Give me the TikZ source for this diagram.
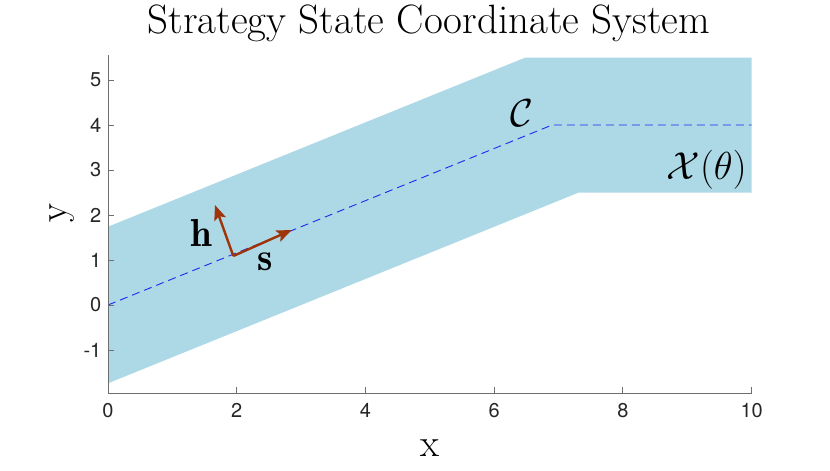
\RequirePackage{fix-cm}
\documentclass[tikz,border=0pt]{standalone}
\usepackage{fontspec}
\newfontfamily\tickfont{TeX Gyre Heros}
\usetikzlibrary{arrows.meta}
\definecolor{bandblue}{RGB}{173,216,230}
\definecolor{axisgray}{RGB}{110,110,110}
\definecolor{arrowred}{RGB}{158,52,8}
\definecolor{lineblue}{RGB}{30,40,240}
\tikzset{
  ticklab/.style={font=\tickfont\fontsize{20}{22}\selectfont, text=black!85, inner sep=0pt},
  biglab/.style={font=\fontsize{39}{42}\selectfont, inner sep=0pt},
  titlelab/.style={font=\fontsize{41}{44}\selectfont, inner sep=0pt},
  vecarrow/.style={draw=arrowred, line width=2.4pt, -{Stealth[length=15pt,width=12pt,inset=3pt]}},
  axisline/.style={draw=axisgray, line width=0.9pt},
}
\begin{document}
\begin{tikzpicture}[x=64.37pt, y=45pt]
\useasboundingbox (-1.678,6.778) rectangle (11.217,-3.689);
% band
\fill[bandblue] (0,-1.74) -- (7.314,2.5) -- (10,2.5) -- (10,5.5) -- (6.486,5.5) -- (0,1.74) -- cycle;
% centerline
\draw[lineblue, line width=0.9pt, dash pattern=on 8pt off 5pt] (0,0) -- (6.9,4) -- (10,4);
% axes
\coordinate (xa0) at (0,-1.96);
\coordinate (xa1) at (10,-1.96);
\coordinate (ya1) at (0,5.55);
\draw[axisline] (ya1) -- (xa0) -- (xa1);
\foreach \i in {0,2,4,6,8,10} {
  \draw[axisline] (\i,-1.96) -- ++(0,6pt);
  \node[ticklab, anchor=north] (xt\i) at (\i,-2.18) {\i};
}
\foreach \j in {-1,0,1,2,3,4,5} {
  \draw[axisline] (0,\j) -- ++(6pt,0);
  \node[ticklab, anchor=east] (yt\j) at (-0.1,\j) {\j};
}
% vectors
\coordinate (o) at (1.947,1.089);
\coordinate (stip) at (2.854,1.667);
\coordinate (htip) at (1.662,2.222);
\draw[vecarrow] (o) -- (stip);
\draw[vecarrow] (o) -- (htip);
\node[biglab] (hl) at (1.455,1.593) {$\mathbf{h}$};
\node[biglab] (sl) at (2.439,0.962) {$\mathbf{s}$};
\node[biglab] (cl) at (6.427,4.26) {$\mathcal{C}$};
\node[biglab] (xl) at (9.30,3.0) {$\mathcal{X}(\theta)$};
% labels
\node[titlelab, anchor=base] (title) at (4.987,6.044) {Strategy State Coordinate System};
\node[biglab, anchor=base] (xlab) at (5.0,-3.356) {x};
\node[biglab, rotate=90] (ylab) at (-0.715,2.04) {y};
\end{tikzpicture}
\end{document}
